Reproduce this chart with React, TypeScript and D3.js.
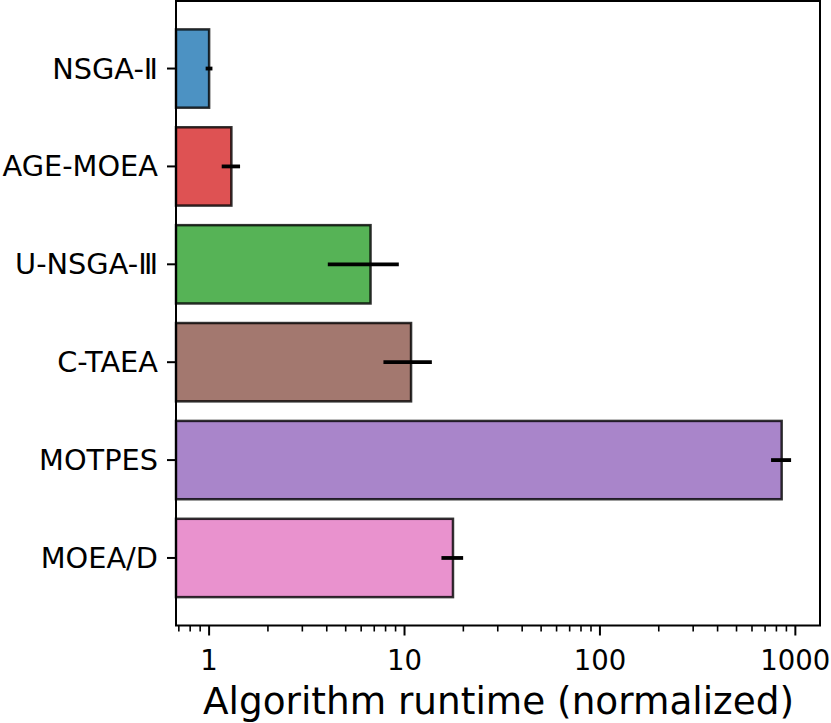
import React from "react";
import * as d3 from "d3";

const categories = ["NSGA-Ⅱ", "AGE-MOEA", "U-NSGA-Ⅲ", "C-TAEA", "MOTPES", "MOEA/D"];
const runtimes = [1.0, 1.3, 6.7, 10.8, 851, 17.7];
const errors = [0.04, 0.14, 2.65, 3.0, 100, 2.25];
const colors = ["#1f77b4", "#d62728", "#2ca02c", "#8c564b", "#9467bd", "#e377c2"];
const xTickValues = [1, 10, 100, 1000];
const xTickLabels = ["1", "10", "100", "1000"];
const xDomain = [0.677, 1337];
const xLabel = "Algorithm runtime (normalized)";

const W = 831;
const H = 723;
const left = 176;
const right = 820;
const top = 1;
const bottom = 625.5;
const font = "'DejaVu Sans', sans-serif";

export default function App() {
  const x = d3.scaleLog().domain(xDomain).range([left, right]);
  const n = categories.length;
  const y = d3.scaleLinear().domain([-0.69, n - 1 + 0.69]).range([top, bottom]);
  const barH = y(0.8) - y(0);

  const minor: number[] = [];
  for (let e = -1; e <= 3; e++) {
    for (let m = 2; m <= 9; m++) {
      const v = m * Math.pow(10, e);
      if (v >= xDomain[0] && v <= xDomain[1]) minor.push(v);
    }
  }

  return (
    <svg
      width={W}
      height={H}
      style={{ position: "absolute", left: 0, top: 0, background: "#fff" }}
      fontFamily={font}
    >
      <rect x={0} y={0} width={W} height={H} fill="#fff" />
      {categories.map((c, i) => (
        <g key={c}>
          <rect
            x={x(xDomain[0])}
            y={y(i) - barH / 2}
            width={x(runtimes[i]) - x(xDomain[0])}
            height={barH}
            fill={colors[i]}
            fillOpacity={0.8}
            stroke="#000"
            strokeOpacity={0.8}
            strokeWidth={2.5}
          />
          <line
            x1={x(Math.max(runtimes[i] - errors[i], xDomain[0]))}
            x2={x(runtimes[i] + errors[i])}
            y1={y(i)}
            y2={y(i)}
            stroke="#000"
            strokeWidth={3.8}
          />
          <line x1={left - 9} x2={left} y1={y(i)} y2={y(i)} stroke="#000" strokeWidth={2} />
          <text
            x={left - 18}
            y={y(i)}
            textAnchor="end"
            dominantBaseline="central"
            fontSize={28.8}
            fill="#000"
          >
            {c}
          </text>
        </g>
      ))}
      {minor.map((v) => (
        <line key={"m" + v} x1={x(v)} x2={x(v)} y1={bottom} y2={bottom + 6} stroke="#000" strokeWidth={1.6} />
      ))}
      {xTickValues.map((v, i) => (
        <g key={"t" + v}>
          <line x1={x(v)} x2={x(v)} y1={bottom} y2={bottom + 10} stroke="#000" strokeWidth={2} />
          <text x={x(v)} y={bottom + 44} textAnchor="middle" fontSize={27.5} fill="#000">
            {xTickLabels[i]}
          </text>
        </g>
      ))}
      <rect x={left} y={top} width={right - left} height={bottom - top} fill="none" stroke="#000" strokeWidth={2} />
      <text x={(left + right) / 2 + 0.5} y={714} textAnchor="middle" fontSize={37.4} fill="#000">
        {xLabel}
      </text>
    </svg>
  );
}
